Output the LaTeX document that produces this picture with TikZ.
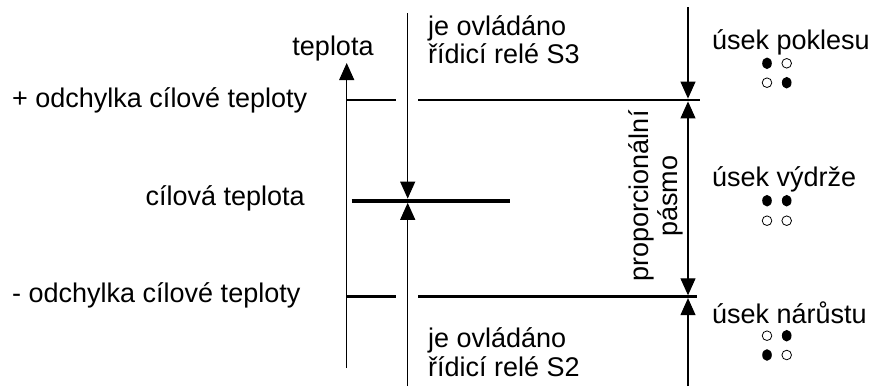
\documentclass[tikz,border=0pt]{standalone}
\usepackage{fontspec}
\setmainfont{Liberation Sans}
\usetikzlibrary{arrows.meta}
\begin{document}
\begin{tikzpicture}[x=1pt,y=-1pt,
  lbl/.style={inner sep=0pt, font=\fontsize{27}{29}\selectfont},
  thinln/.style={line width=1.1pt},
  tip/.tip={Triangle[length=17pt,width=15pt]},
  arr/.style={thinln,-tip},
  darr/.style={thinln,tip-tip},
  level/.style={line width=2.7pt},
  target/.style={line width=4pt},
  dotOn/.style={fill=black},
  dotOff/.style={draw=black,line width=0.8pt,fill=white}]
\useasboundingbox (0,0) rectangle (872,386);

% temperature axis
\coordinate (axB) at (346.7,368);
\coordinate (axT) at (346.7,63);
\draw[arr] (axB) -- (axT);
\node[lbl,anchor=base] (tep) at (333,55) {teplota};

% relay S3 / S2 arrows
\coordinate (s3top) at (407.7,13);
\coordinate (s3tip) at (407.7,198.6);
\draw[arr] (s3top) -- (s3tip);
\coordinate (s2bot) at (407.7,386);
\coordinate (s2tip) at (407.7,202.8);
\draw[arr] (s2bot) -- (s2tip);

% levels
\coordinate (u1a) at (346.7,100); \coordinate (u1b) at (395.7,100);
\coordinate (u2a) at (418,100);   \coordinate (u2b) at (700,100);
\draw[level] (u1a) -- (u1b);
\draw[level] (u2a) -- (u2b);
\coordinate (l1a) at (346.7,296.7); \coordinate (l1b) at (395.5,296.7);
\coordinate (l2a) at (418,296.7);   \coordinate (l2b) at (697,296.7);
\draw[level] (l1a) -- (l1b);
\draw[level] (l2a) -- (l2b);
\coordinate (ca) at (351.7,200.7); \coordinate (cb) at (510,200.7);
\draw[target] (ca) -- (cb);

% right column
\coordinate (r0) at (688,7);
\coordinate (r1) at (688,98.6);
\coordinate (r2) at (688,101.4);
\coordinate (r3) at (688,295.3);
\coordinate (r4) at (688,298.1);
\coordinate (r5) at (688,386);
\draw[arr] (r0) -- (r1);
\draw[darr] (r2) -- (r3);
\draw[arr] (r5) -- (r4);

% texts
\node[lbl,anchor=base west] (t3a) at (428,35) {je ovládáno};
\node[lbl,anchor=base west] (t3b) at (428,63.5) {řídicí relé S3};
\node[lbl,anchor=base west] (t2a) at (428,347) {je ovládáno};
\node[lbl,anchor=base west] (t2b) at (428,376) {řídicí relé S2};
\node[lbl,anchor=base west] (plus) at (12,107) {+ odchylka cílové teploty};
\node[lbl,anchor=base east] (cil) at (305,205) {cílová teplota};
\node[lbl,anchor=base west] (minus) at (12,302) {- odchylka cílové teploty};
\node[lbl,anchor=base west] (pok) at (712,49.5) {úsek poklesu};
\node[lbl,anchor=base west] (vyd) at (712,186) {úsek výdrže};
\node[lbl,anchor=base west] (nar) at (712,323) {úsek nárůstu};
\node[lbl,rotate=90,align=center] (pp) at (656,196) {proporcionální\\pásmo};

% dots
\fill[dotOn] (767,63.3) ellipse (4.8 and 5.8);
\draw[dotOff] (786.7,63.3) circle (4.8);
\draw[dotOff] (767,82.7) circle (4.8);
\fill[dotOn] (786.7,82.7) ellipse (4.8 and 5.8);

\fill[dotOn] (767,200.7) ellipse (4.8 and 5.8);
\fill[dotOn] (786.7,200.7) ellipse (4.8 and 5.8);
\draw[dotOff] (767,220.7) circle (4.8);
\draw[dotOff] (786.7,220.7) circle (4.8);

\draw[dotOff] (767,335.7) circle (4.8);
\fill[dotOn] (786.7,335.7) ellipse (4.8 and 5.8);
\fill[dotOn] (767,355) ellipse (4.8 and 5.8);
\draw[dotOff] (786.7,355) circle (4.8);
\end{tikzpicture}
\end{document}
